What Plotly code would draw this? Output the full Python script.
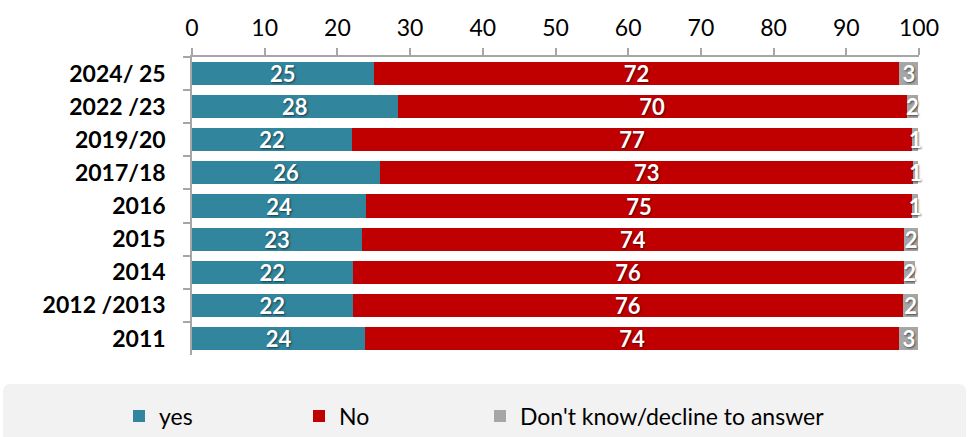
import plotly.graph_objects as go

categories = ["2024/ 25", "2022 /23", "2019/20", "2017/18", "2016", "2015", "2014", "2012 /2013", "2011"]
# bar lengths (percent)
yes_vals = [25.0, 28.3, 22.0, 25.9, 24.0, 23.4, 22.1, 22.1, 23.8]
no_vals = [72.3, 70.0, 77.1, 73.3, 75.0, 74.5, 75.8, 75.7, 73.5]
dk_vals = [2.6, 1.6, 0.8, 0.7, 0.9, 2.0, 1.6, 2.1, 2.6]
# data labels as printed on the bars
yes_labels = ["25", "28", "22", "26", "24", "23", "22", "22", "24"]
no_labels = ["72", "70", "77", "73", "75", "74", "76", "76", "74"]
dk_labels = ["3", "2", "1", "1", "1", "2", "2", "2", "3"]
series_names = ["yes", "No", "Don't know/decline to answer"]
colors = ["#31859C", "#C00000", "#A6A6A6"]
x_ticks = [0, 10, 20, 30, 40, 50, 60, 70, 80, 90, 100]

FONT = "Lato, Calibri, Carlito, sans-serif"

legend_ids = ["legend", "legend2", "legend3"]
legend_px = [119, 299, 480]

fig = go.Figure()
for name, vals, labels, col, lid in zip(series_names, [yes_vals, no_vals, dk_vals],
                                        [yes_labels, no_labels, dk_labels], colors, legend_ids):
    fig.add_trace(go.Bar(
        y=categories, x=vals, name=name, orientation="h",
        marker=dict(color=col, line=dict(width=0)),
        text=labels, textposition="inside",
        insidetextanchor="middle", textangle=0, constraintext="none",
        cliponaxis=False, legend=lid,
        textfont=dict(family=FONT, size=22, color="white", weight="bold",
                      shadow="1px 1px 2px rgba(0,0,0,0.55)"),
        hoverinfo="skip",
    ))

L, R, T, B = 192, 49, 57, 82
PW, PH = 968 - L - R, 437 - T - B

legend_common = dict(orientation="h", xref="container", yref="container",
                     xanchor="left", y=1 - 416 / 437, yanchor="middle",
                     bgcolor="rgba(0,0,0,0)", font=dict(family=FONT, size=23, color="black"),
                     itemclick=False, itemdoubleclick=False)

fig.update_layout(
    barmode="stack", bargap=0.3,
    width=968, height=437,
    margin=dict(l=L, r=R, t=T, b=B, autoexpand=False),
    paper_bgcolor="white", plot_bgcolor="white",
    font=dict(family=FONT, color="black"),
    showlegend=True,
    legend=dict(x=legend_px[0] / 968, **legend_common),
    legend2=dict(x=legend_px[1] / 968, **legend_common),
    legend3=dict(x=legend_px[2] / 968, **legend_common),
    xaxis=dict(side="top", range=[0, 100], tickvals=x_ticks, ticktext=[str(t) for t in x_ticks],
               showgrid=False, zeroline=False, showline=True, linecolor="#A6A6A6", linewidth=1.5,
               ticks="outside", ticklen=7, tickcolor="#A6A6A6", tickwidth=1.5,
               tickfont=dict(family=FONT, size=23, color="black"), ticklabelstandoff=3,
               fixedrange=True),
    yaxis=dict(autorange="reversed", showgrid=False, zeroline=False, showline=True,
               linecolor="#A6A6A6", linewidth=1.5, ticks="outside", ticklen=7,
               tickcolor="#A6A6A6", tickwidth=1.5, tickson="boundaries",
               tickfont=dict(family=FONT, size=23, color="black", weight="bold"),
               ticklabelstandoff=20, fixedrange=True),
)

# legend background panel with rounded top corners
x0, x1 = (3 - L) / PW, (966 - L) / PW
y0, y1 = (T + PH - 384) / PH, (T + PH - 440) / PH
rx, ry = 8 / PW, 8 / PH
path = (f"M {x0},{y1} L {x0},{y0 - ry} Q {x0},{y0} {x0 + rx},{y0} "
        f"L {x1 - rx},{y0} Q {x1},{y0} {x1},{y0 - ry} L {x1},{y1} Z")
fig.add_shape(type="path", xref="paper", yref="paper", path=path,
              fillcolor="#F2F2F2", line=dict(width=0), layer="below")

fig.write_html("out.html")
